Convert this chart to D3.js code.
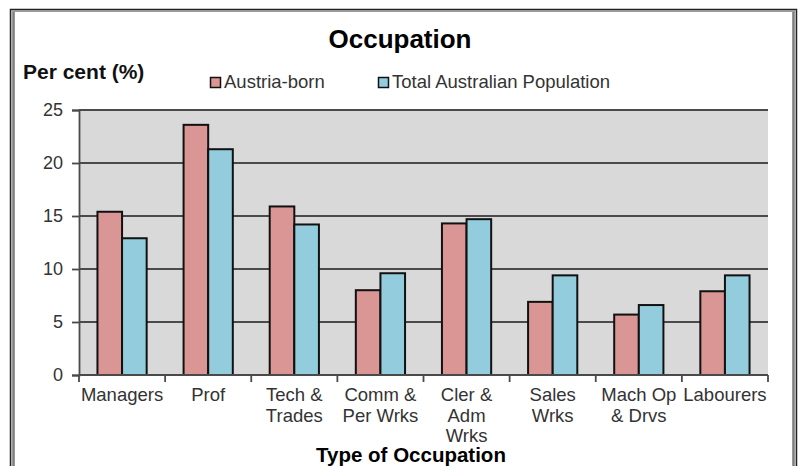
<!DOCTYPE html>
<html>
<head>
<meta charset="utf-8">
<script src="https://cdn.jsdelivr.net/npm/d3@7"></script>
<style>
  body { margin: 0; background: #fff; }
  svg { display: block; font-family: "Liberation Sans", Arial, sans-serif; }
</style>
</head>
<body>
<svg id="occupationChart" width="801" height="466"></svg>
<script>
// chart data
const categories = ['Managers', 'Prof', 'Tech & Trades', 'Comm & Per Wrks', 'Cler & Adm Wrks', 'Sales Wrks', 'Mach Op & Drvs', 'Labourers'];
const categoryLines = [['Managers'], ['Prof'], ['Tech &', 'Trades'], ['Comm &', 'Per Wrks'], ['Cler &', 'Adm', 'Wrks'], ['Sales', 'Wrks'], ['Mach Op', '& Drvs'], ['Labourers']];
const seriesNames = ['Austria-born', 'Total Australian Population'];
const austriaBorn = [15.4, 23.6, 15.9, 8.0, 14.3, 6.9, 5.7, 7.9];
const totalAustralia = [12.9, 21.3, 14.2, 9.6, 14.7, 9.4, 6.6, 9.4];
const yTicks = [0, 5, 10, 15, 20, 25];

const colors = ['#D99694', '#93CDDD'];
const seriesValues = [austriaBorn, totalAustralia];

const svg = d3.select('#occupationChart');

// chart area frame (double border like the excel export)
svg.append('rect')
    .attr('x', 10.5).attr('y', 9.5)
    .attr('width', 786).attr('height', 480)
    .style('fill', 'none').style('stroke', '#222').style('stroke-width', 1.5);
svg.append('rect')
    .attr('x', 12.5).attr('y', 11)
    .attr('width', 782).attr('height', 480)
    .style('fill', 'none').style('stroke', '#999').style('stroke-width', 2);
svg.append('line')
    .attr('x1', 14).attr('x2', 14).attr('y1', 12).attr('y2', 466)
    .style('stroke', '#333').style('stroke-width', 1);
svg.append('line')
    .attr('x1', 793).attr('x2', 793).attr('y1', 12).attr('y2', 466)
    .style('stroke', '#333').style('stroke-width', 1);

const plot = { left: 79, right: 768, top: 110, bottom: 375 };

const xScale = d3.scaleBand()
    .domain(categories)
    .range([plot.left, plot.right])
    .paddingInner(1.5 / 3.5)
    .paddingOuter(0.75 / 3.5);

const xSeries = d3.scaleBand()
    .domain(d3.range(seriesNames.length))
    .range([0, xScale.bandwidth()]);

const yScale = d3.scaleLinear()
    .domain([0, 25])
    .range([plot.bottom, plot.top]);

// plot background
svg.append('rect')
    .attr('x', plot.left).attr('y', plot.top)
    .attr('width', plot.right - plot.left)
    .attr('height', plot.bottom - plot.top)
    .style('fill', '#D9D9D9');

// gridlines
svg.append('g')
    .selectAll('line')
    .data(yTicks.filter(t => t > 0))
    .join('line')
    .attr('x1', plot.left).attr('x2', plot.right)
    .attr('y1', d => yScale(d)).attr('y2', d => yScale(d))
    .style('stroke', '#4a4a4a').style('stroke-width', 1.8);

// y axis
const yAxis = svg.append('g')
    .attr('transform', `translate(${plot.left},0)`)
    .call(d3.axisLeft(yScale).tickValues(yTicks).tickSize(7).tickPadding(9));
yAxis.select('.domain').style('stroke', '#4a4a4a').style('stroke-width', 1.8);
yAxis.selectAll('.tick line').style('stroke', '#4a4a4a').style('stroke-width', 1.8);
yAxis.selectAll('.tick text')
    .style('font-size', '18px').style('fill', '#333')
    .style('font-family', '"Liberation Sans", Arial, sans-serif');

// bars
const groups = svg.append('g')
    .selectAll('g')
    .data(categories)
    .join('g')
    .attr('transform', d => `translate(${xScale(d)},0)`);

groups.selectAll('rect')
    .data((d, i) => seriesValues.map((vals, s) => ({ s, v: vals[i] })))
    .join('rect')
    .attr('x', d => xSeries(d.s))
    .attr('y', d => yScale(d.v))
    .attr('width', xSeries.bandwidth())
    .attr('height', d => yScale(0) - yScale(d.v))
    .style('fill', d => colors[d.s])
    .style('stroke', '#111')
    .style('stroke-width', 2);

// x axis line + ticks at category boundaries
const step = xScale.step();
svg.append('line')
    .attr('x1', plot.left).attr('x2', plot.right)
    .attr('y1', plot.bottom).attr('y2', plot.bottom)
    .style('stroke', '#4a4a4a').style('stroke-width', 1.8);
svg.append('g')
    .selectAll('line')
    .data(d3.range(categories.length + 1))
    .join('line')
    .attr('x1', i => plot.left + i * step).attr('x2', i => plot.left + i * step)
    .attr('y1', plot.bottom).attr('y2', plot.bottom + 7)
    .style('stroke', '#4a4a4a').style('stroke-width', 1.8);

// category labels
svg.append('g')
    .selectAll('text')
    .data(categories)
    .join('text')
    .attr('x', d => xScale(d) + xScale.bandwidth() / 2)
    .attr('y', 401)
    .attr('text-anchor', 'middle')
    .style('font-size', '18.5px').style('fill', '#333')
    .selectAll('tspan')
    .data((d, i) => categoryLines[i])
    .join('tspan')
    .attr('x', function() { return this.parentNode.getAttribute('x'); })
    .attr('dy', (d, j) => j === 0 ? 0 : 20.5)
    .text(d => d);

// titles
svg.append('text')
    .attr('x', 400).attr('y', 48)
    .attr('text-anchor', 'middle')
    .style('font-size', '26px').style('font-weight', 'bold').style('fill', '#000')
    .text('Occupation');

svg.append('text')
    .attr('x', 23).attr('y', 79)
    .style('font-size', '21px').style('font-weight', 'bold').style('fill', '#111')
    .text('Per cent (%)');

svg.append('text')
    .attr('x', 411).attr('y', 462)
    .attr('text-anchor', 'middle')
    .style('font-size', '20.5px').style('font-weight', 'bold').style('fill', '#000')
    .text('Type of Occupation');

// legend
const legendX = [210, 378];
const legend = svg.append('g')
    .selectAll('g')
    .data(seriesNames)
    .join('g')
    .attr('transform', (d, i) => `translate(${legendX[i]},77)`);
legend.append('rect')
    .attr('x', 0.5).attr('y', 0.5)
    .attr('width', 10).attr('height', 10)
    .style('fill', (d, i) => colors[i])
    .style('stroke', '#111').style('stroke-width', 1.5);
legend.append('text')
    .attr('x', 14).attr('y', 10.5)
    .style('font-size', '18.5px').style('fill', '#333')
    .text(d => d);
</script>
</body>
</html>
